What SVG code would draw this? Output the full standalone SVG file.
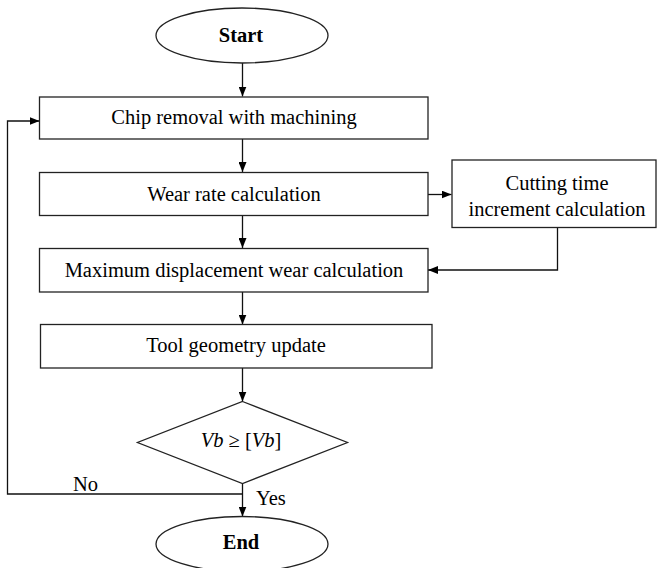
<svg xmlns="http://www.w3.org/2000/svg" width="657" height="568" viewBox="0 0 657 568">
<defs>
<marker id="ah" markerWidth="10" markerHeight="8" refX="10" refY="4" orient="auto" markerUnits="userSpaceOnUse">
<path d="M0,0 L10,4 L0,8 Z" fill="#000"/>
</marker>
<style>
.shape{fill:#fff;stroke:#222;stroke-width:1.3}
.line{fill:none;stroke:#111;stroke-width:1.3}
.t{font-family:"Liberation Serif","Times New Roman",serif;font-size:20.5px;fill:#000;text-anchor:middle}
.b{font-weight:bold}
.lbl{font-family:"Liberation Serif","Times New Roman",serif;font-size:20.5px;fill:#000}
</style>
</defs>
<rect width="657" height="568" fill="#fff"/>
<g id="connectors">
<line class="line" x1="242.5" y1="63" x2="242.5" y2="96.5" marker-end="url(#ah)"/>
<line class="line" x1="242.5" y1="139" x2="242.5" y2="172" marker-end="url(#ah)"/>
<line class="line" x1="428" y1="194.5" x2="451.5" y2="194.5" marker-end="url(#ah)"/>
<line class="line" x1="242.5" y1="215.5" x2="242.5" y2="248" marker-end="url(#ah)"/>
<polyline class="line" points="557.5,227.5 557.5,270 428,270" marker-end="url(#ah)"/>
<line class="line" x1="242.5" y1="292" x2="242.5" y2="324.5" marker-end="url(#ah)"/>
<line class="line" x1="242.5" y1="368" x2="242.5" y2="401.5" marker-end="url(#ah)"/>
<line class="line" x1="242.5" y1="483.5" x2="242.5" y2="516.5" marker-end="url(#ah)"/>
<polyline class="line" points="242.5,494 7.5,494 7.5,121 39.5,121" marker-end="url(#ah)"/>
<text class="lbl" x="73" y="491">No</text>
<text class="lbl" x="256" y="505">Yes</text>
</g>
<g id="start">
<ellipse class="shape" cx="242" cy="35.5" rx="86" ry="27.5"/>
<text class="t b" x="241" y="42">Start</text>
</g>
<g id="chip">
<rect class="shape" x="39.5" y="97" width="388.5" height="42"/>
<text class="t" x="234" y="124">Chip removal with machining</text>
</g>
<g id="wear">
<rect class="shape" x="39.5" y="172.5" width="388.5" height="43"/>
<text class="t" x="234" y="200.5">Wear rate calculation</text>
</g>
<g id="cutting">
<rect class="shape" x="452" y="160" width="204" height="67.5"/>
<text class="t" x="557" y="189.5">Cutting time</text>
<text class="t" x="557" y="216">increment calculation</text>
</g>
<g id="maxwear">
<rect class="shape" x="39.5" y="248.5" width="388.5" height="43.5"/>
<text class="t" x="234" y="277">Maximum displacement wear calculation</text>
</g>
<g id="tool">
<rect class="shape" x="40.5" y="324.5" width="391.5" height="43.5"/>
<text class="t" x="236" y="352">Tool geometry update</text>
</g>
<g id="decision">
<polygon class="shape" points="242.5,401.5 347.5,442.5 242.5,483.5 137.5,442.5"/>
<text class="t" x="241" y="447"><tspan font-style="italic">Vb</tspan> ≥ [<tspan font-style="italic">Vb</tspan>]</text>
</g>
<g id="end">
<ellipse class="shape" cx="242" cy="544" rx="86" ry="27.5"/>
<text class="t b" x="241" y="549">End</text>
</g>
</svg>
